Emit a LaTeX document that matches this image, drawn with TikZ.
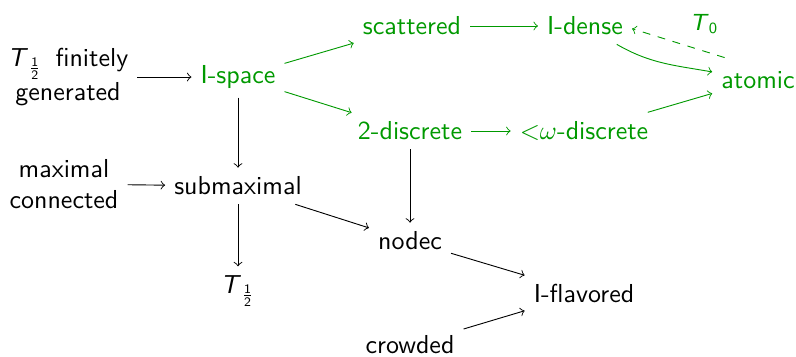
\documentclass[tikz,border=0pt]{standalone}
\usepackage{amsmath}
\usetikzlibrary{positioning}
\renewcommand{\familydefault}{\sfdefault}
\colorlet{igreen}{green!60!black}
\newcommand{\Thalf}{\textsl{T}$_{\frac{\textsf{1}}{\textsf{2}}}$}

\begin{document}
\begin{tikzpicture}[
    x=0.385pt, y=-0.385pt,
    prop/.style={align=center},
    iprop/.style={prop, text=igreen},
    imp/.style={->, line width=0.35pt},
    iimp/.style={imp, draw=igreen}
]
    \useasboundingbox (0,0) rectangle (796,356);

    \node[prop] (fingen) at (68,77) {\Thalf\,\ finitely\\[1pt]generated};
    \node[iprop] (ispace) at (238,77) {I-space};
    \node[iprop] (scat) at (412,26) {scattered};
    \node[iprop] (idense) at (585,26) {I-dense};
    \node[iprop] (atomic) at (758,80) {atomic};
    \node[iprop] (twodisc) at (410,131) {2-discrete};
    \node[iprop] (omdisc) at (584,131) {$\mathord{<}\omega$-discrete};
    \node[prop] (maxcon) at (64,184) {maximal\\connected};
    \node[prop] (submax) at (238,186) {submaximal};
    \node[prop] (nodec) at (410,241) {nodec};
    \node[prop] (thalf) at (238,291) {\Thalf};
    \node[prop] (iflav) at (584,293) {I-flavored};
    \node[prop] (crowd) at (410,345) {crowded};

    \draw[imp] (fingen) -- (ispace);
    \draw[iimp] (ispace) -- (scat);
    \draw[iimp] (ispace) -- (twodisc);
    \draw[iimp] (scat) -- (idense);
    \draw[iimp] (idense) to[out=-30, in=170] (atomic);
    \draw[iimp, dashed, shorten <=-5pt, transform canvas={shift={(0,-12)}}] (atomic) -- (idense)
        node[pos=0.1, above=5.5pt, text=igreen, font=\small, inner sep=1pt] (tzero) {\textsl{T}$_{\textsf{0}}$};
    \draw[iimp] (twodisc) -- (omdisc);
    \draw[iimp] (omdisc) -- (atomic);
    \draw[imp] (ispace) -- (submax);
    \draw[imp] (maxcon) -- (submax);
    \draw[imp] (submax) -- (nodec);
    \draw[imp] (submax) -- (thalf);
    \draw[imp] (twodisc) -- (nodec);
    \draw[imp] (nodec) -- (iflav);
    \draw[imp] (crowd) -- (iflav);
\end{tikzpicture}
\end{document}
